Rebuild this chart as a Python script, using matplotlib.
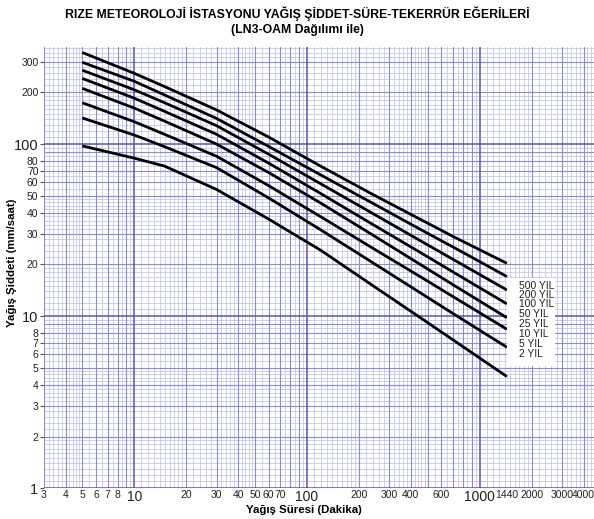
import numpy as np
import matplotlib
matplotlib.use("Agg")
import matplotlib.pyplot as plt
from matplotlib.patches import Rectangle

plt.rcParams['font.family'] = ['Liberation Sans', 'DejaVu Sans']

# ---- data ----
durations = [5, 10, 15, 30, 60, 120, 240, 480, 720, 1440]
series_labels = ["500 YIL", "200 YIL", "100 YIL", "50 YIL", "25 YIL", "10 YIL", "5 YIL", "2 YIL"]
i_500 = [341, 258, 216, 158, 110, 74.5, 51.1, 35.5, 28.7, 20.3]
i_200 = [299, 232, 193, 141, 97, 66.3, 45.4, 31.0, 24.9, 17.0]
i_100 = [269, 207, 174, 128, 87.4, 58.9, 39.6, 26.6, 21.1, 14.2]
i_50 = [241, 185, 155, 114, 77.6, 51.7, 34.2, 22.7, 17.8, 11.8]
i_25 = [211, 162, 136, 100, 68.4, 45.5, 29.7, 19.3, 15.0, 9.8]
i_10 = [174, 135, 114, 85, 57.4, 37.9, 24.9, 16.4, 12.8, 8.4]
i_5 = [142, 113, 96.6, 73, 48.7, 31.8, 20.5, 13.2, 10.2, 6.6]
i_2 = [97.7, 82.9, 74.5, 54.5, 36.7, 24.2, 15.1, 9.44, 7.16, 4.46]
series = [i_500, i_200, i_100, i_50, i_25, i_10, i_5, i_2]

x_ticks = [3, 4, 5, 6, 7, 8, 10, 20, 30, 40, 50, 60, 70, 100, 200, 300, 400, 600, 1000, 1440, 2000, 3000, 4000]
y_ticks = [1, 2, 3, 4, 5, 6, 7, 8, 10, 20, 30, 40, 50, 60, 70, 80, 100, 200, 300]
big_ticks = [1, 10, 100, 1000]

fig = plt.figure(figsize=(5.94, 5.19), dpi=100)
ax = fig.add_axes([44/594, 1-488.3/519, 1-44/594, (488.3-47)/519])
ax.set_xscale('log')
ax.set_yscale('log')
ax.set_xlim(3, 4600)
ax.set_ylim(1, 367)

# graph-paper grid
def grid_vals(lo, hi):
    fine, med, maj = [], [], []
    for e in range(-1, 5):
        d = 10.0 ** e
        maj.append(d)
        for k in range(2, 10):
            med.append(k * d)
        for f in np.arange(1.1, 2.0, 0.1):
            fine.append(f * d)
        for f in np.arange(2.2, 5.0, 0.2):
            fine.append(f * d)
        for f in np.arange(5.5, 10.0, 0.5):
            fine.append(f * d)
    filt = lambda L: [v for v in L if lo <= v <= hi]
    return filt(fine), filt(med), filt(maj)

fx, mx, Mx = grid_vals(3, 4600)
fy, my, My = grid_vals(1, 367)
fine_c, med_c, maj_c = '#c6c6ee', '#8c8cd6', '#5555b8'
for v in fx:
    ax.axvline(v, color=fine_c, lw=0.6, zorder=1)
for v in fy:
    ax.axhline(v, color=fine_c, lw=0.6, zorder=1)
for v in mx:
    ax.axvline(v, color=med_c, lw=0.8, zorder=1.5)
for v in my:
    ax.axhline(v, color=med_c, lw=0.8, zorder=1.5)
for v in Mx:
    ax.axvline(v, color=maj_c, lw=1.1, zorder=2)
for v in My:
    ax.axhline(v, color=maj_c, lw=1.1, zorder=2)

for vals in series:
    ax.plot(durations, vals, color='black', lw=2.0, zorder=5, solid_capstyle='butt')

for s in ax.spines.values():
    s.set_visible(False)

ax.minorticks_off()
ax.set_xticks(x_ticks)
ax.set_xticklabels([str(v) for v in x_ticks])
ax.set_yticks(y_ticks)
ax.set_yticklabels([str(v) for v in y_ticks])
ax.tick_params(axis='x', length=0, pad=1.5, labelcolor='#222222')
ax.tick_params(axis='y', length=3, width=0.8, color='#555555', pad=1, labelcolor='#222222')
for lab, v in zip(ax.get_xticklabels(), x_ticks):
    lab.set_fontsize(10 if v in big_ticks else 7.5)
for lab, v in zip(ax.get_yticklabels(), y_ticks):
    lab.set_fontsize(10.5 if v in big_ticks else 7.5)

# legend box
ax.add_patch(Rectangle((0.8425, 0.278), 0.087, 0.198, transform=ax.transAxes,
                       facecolor='white', edgecolor='none', zorder=6))
y0_px = [285.7, 295, 304.3, 314.3, 324, 333.7, 343.7, 353.7]
for lab, ypx in zip(series_labels, y0_px):
    ax.text((519 - 44) / 550, (488.3 - ypx) / (488.3 - 47), lab, transform=ax.transAxes,
            fontsize=7.4, color='#222222', va='center', ha='left', zorder=7)

fig.text(0.5, 1-14/519, "RIZE METEOROLOJİ İSTASYONU YAĞIŞ ŞİDDET-SÜRE-TEKERRÜR EĞERİLERİ",
         ha='center', va='center', fontsize=8.8, fontweight='bold')
fig.text(0.5, 1-30/519, "(LN3-OAM Dağılımı ile)", ha='center', va='center',
         fontsize=8.8, fontweight='bold')
fig.text(304/594, 1-510/519, "Yağış Süresi (Dakika)", ha='center', va='center',
         fontsize=8.2, fontweight='bold')
fig.text(12/594, 1-263/519, "Yağış Şiddeti (mm/saat)", ha='center', va='center',
         fontsize=8.2, fontweight='bold', rotation=90)

fig.savefig("out.png", dpi=100)
